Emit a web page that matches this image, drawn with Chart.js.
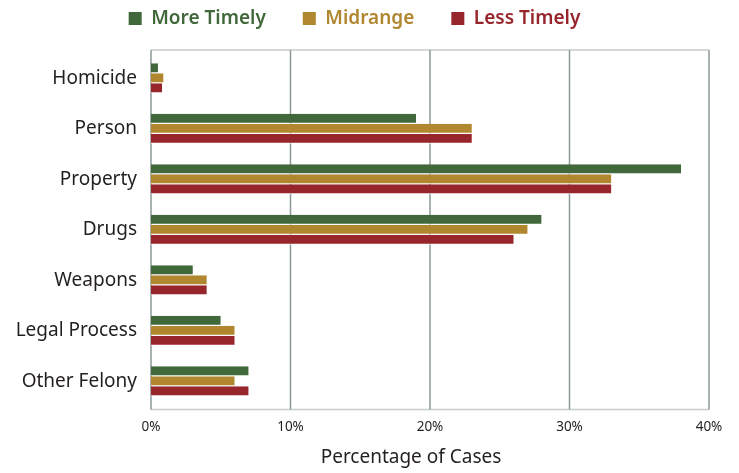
<!DOCTYPE html>
<html>
<head>
<meta charset="utf-8">
<script src="https://cdn.jsdelivr.net/npm/chart.js@4"></script>
<style>
  html, body { margin: 0; padding: 0; background: #ffffff; }
  #wrap { width: 739px; height: 473px; position: relative; }
</style>
</head>
<body>
<div id="wrap"><canvas id="chart"></canvas></div>
<script>
// Share of cases by offense type, grouped by case-processing timeliness
const categories = ['Homicide', 'Person', 'Property', 'Drugs', 'Weapons', 'Legal Process', 'Other Felony'];
const moreTimely = [0.5, 19, 38, 28, 3, 5, 7];
const midrange   = [0.9, 23, 33, 27, 4, 6, 6];
const lessTimely = [0.8, 23, 33, 26, 4, 6, 7];
const seriesNames = ['More Timely', 'Midrange', 'Less Timely'];
const xTicks = [0, 10, 20, 30, 40];

const GREEN = '#41683A';
const GOLD = '#B0862F';
const RED = '#97252C';
const TEXT = '#231F20';
const FONT = "'Noto Sans', 'Open Sans', sans-serif";

// Fixed legend band height, and a vertical nudge for its single row
const legendPlacement = {
  id: 'legendPlacement',
  beforeInit(chart, args, opts) {
    const legend = chart.legend;
    const fit = legend.fit;
    legend.fit = function () { fit.call(this); this.height = opts.height; };
    const draw = legend.draw;
    legend.draw = function () {
      const top = this.top;
      this.top = top + opts.shift;
      draw.call(this);
      this.top = top;
    };
  }
};

// Plot frame: vertical grid at each x tick plus light top/bottom rules,
// slightly taller than the category band
const plotFrame = {
  id: 'plotFrame',
  beforeDatasetsDraw(chart, args, opts) {
    const { ctx, chartArea, scales } = chart;
    const top = chartArea.top - opts.extend;
    const bottom = chartArea.bottom + opts.extend;
    ctx.save();
    ctx.lineWidth = opts.frameWidth;
    ctx.strokeStyle = opts.frameColor;
    ctx.beginPath();
    ctx.moveTo(chartArea.left, top);
    ctx.lineTo(chartArea.right, top);
    ctx.moveTo(chartArea.left, bottom);
    ctx.lineTo(chartArea.right, bottom);
    ctx.stroke();
    ctx.lineWidth = opts.gridWidth;
    ctx.strokeStyle = opts.gridColor;
    ctx.beginPath();
    scales.x.ticks.forEach(t => {
      const x = scales.x.getPixelForValue(t.value);
      ctx.moveTo(x, top);
      ctx.lineTo(x, bottom);
    });
    ctx.stroke();
    ctx.restore();
  }
};

function barSet(label, data, color) {
  return {
    label,
    data,
    backgroundColor: color,
    borderColor: '#ffffff',
    borderWidth: { top: 0, right: 0, bottom: 1, left: 0 },
    borderSkipped: false,
    inflateAmount: 0,
    barThickness: 10
  };
}

new Chart(document.getElementById('chart'), {
  type: 'bar',
  data: {
    labels: categories,
    datasets: [
      barSet(seriesNames[0], moreTimely, GREEN),
      barSet(seriesNames[1], midrange, GOLD),
      barSet(seriesNames[2], lessTimely, RED)
    ]
  },
  plugins: [legendPlacement, plotFrame],
  options: {
    indexAxis: 'y',
    responsive: true,
    maintainAspectRatio: false,
    animation: false,
    events: [],
    layout: { padding: { left: 0, right: 30, top: 0, bottom: 0 } },
    plugins: {
      tooltip: { enabled: false },
      legendPlacement: { height: 53, shift: -28 },
      plotFrame: { extend: 3, gridColor: '#8D9999', gridWidth: 1.5, frameColor: '#C6CCCC', frameWidth: 1.5 },
      legend: {
        position: 'top',
        align: 'center',
        labels: {
          boxWidth: 13,
          boxHeight: 13,
          padding: 37,
          font: { family: FONT, size: 19, weight: '600' },
          generateLabels(chart) {
            const items = Chart.defaults.plugins.legend.labels.generateLabels(chart);
            items.forEach(it => {
              const c = chart.data.datasets[it.datasetIndex].backgroundColor;
              it.fillStyle = c;
              it.fontColor = c;
              it.lineWidth = 0;
              it.strokeStyle = c;
            });
            return items;
          }
        }
      }
    },
    scales: {
      x: {
        type: 'linear',
        min: xTicks[0],
        max: xTicks[xTicks.length - 1],
        afterBuildTicks(scale) { scale.ticks = xTicks.map(v => ({ value: v })); },
        afterFit(scale) { scale.height = 66.5; },
        grid: { display: false, drawTicks: false },
        border: { display: false },
        ticks: {
          padding: 13,
          color: TEXT,
          font: { family: FONT, size: 13.5 },
          callback: v => v + '%'
        },
        title: {
          display: true,
          text: 'Percentage of Cases' + '\u2003\u2003',
          color: TEXT,
          font: { family: FONT, size: 19 },
          padding: { top: 0, bottom: 4 }
        }
      },
      y: {
        afterFit(scale) { scale.width = 151; },
        grid: { display: false, drawTicks: false },
        border: { display: false },
        ticks: {
          padding: 14,
          color: TEXT,
          font: { family: FONT, size: 19 }
        }
      }
    }
  }
});
</script>
</body>
</html>
